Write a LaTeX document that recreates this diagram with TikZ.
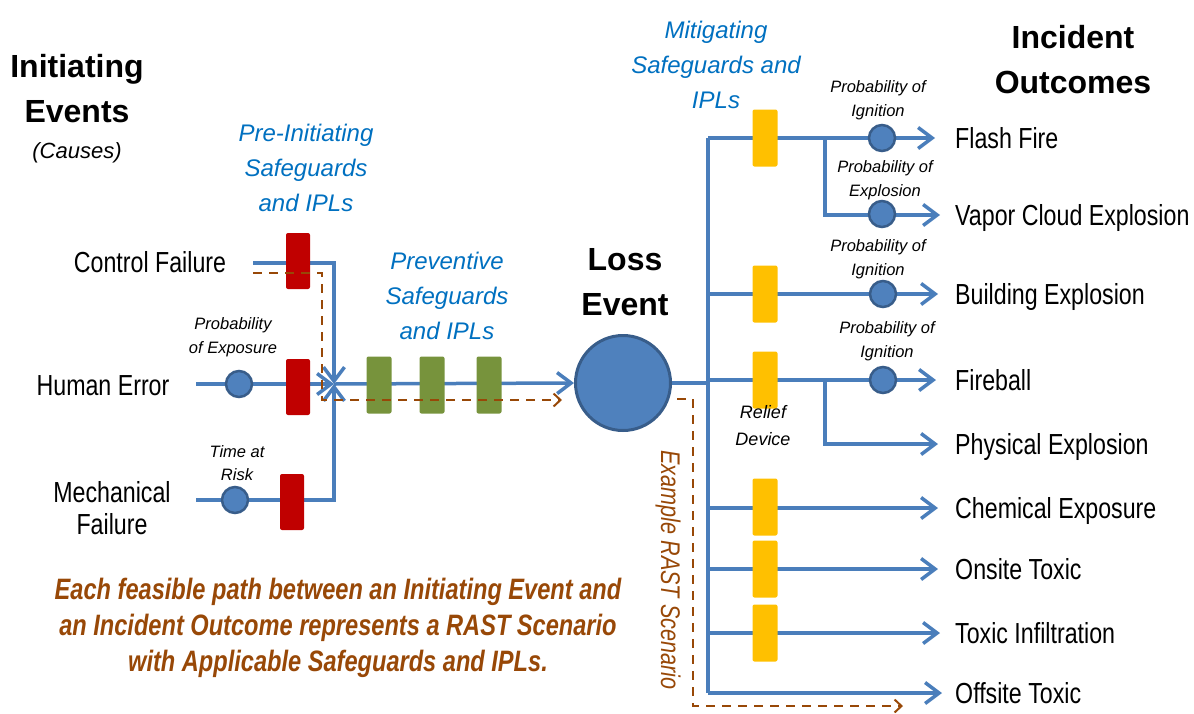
\documentclass[tikz,border=0pt]{standalone}
\usepackage{fontspec}
\setmainfont{Liberation Sans}
\newfontfamily\nar{Liberation Sans}[FakeStretch=0.8]
\usetikzlibrary{arrows.meta,backgrounds}
\definecolor{lblue}{HTML}{4A7EBB}
\definecolor{cblue}{HTML}{4F81BD}
\definecolor{cdark}{HTML}{385D8A}
\definecolor{rred}{HTML}{C00000}
\definecolor{ggreen}{HTML}{77933C}
\definecolor{yyel}{HTML}{FFC000}
\definecolor{tblue}{HTML}{0070C0}
\definecolor{brn}{HTML}{984807}
\tikzset{
 flow/.style={draw=lblue, line width=3.5pt},
 arr/.style={-{Straight Barb[length=14pt,width=21pt]}},
 arrS/.style={-{Straight Barb[length=7pt,width=13pt]}},
 redbox/.style={fill=rred, minimum width=24pt, minimum height=56pt, rounded corners=2pt, inner sep=0pt},
 grnbox/.style={fill=ggreen, minimum width=25pt, minimum height=57pt, rounded corners=2pt, inner sep=0pt},
 ylwbox/.style={fill=yyel, minimum width=25pt, minimum height=57pt, rounded corners=2pt, inner sep=0pt},
 prob/.style={circle, fill=cblue, draw=cdark, line width=2.5pt, minimum size=26pt, inner sep=0pt},
 lossc/.style={circle, fill=cblue, draw=cdark, line width=3pt, minimum size=95pt, inner sep=0pt},
 lbl/.style={font=\nar\fontsize{29}{32}\selectfont, inner sep=0pt, align=center},
 evt/.style={lbl, text height=21pt, text depth=0pt},
 outc/.style={evt, anchor=west},
 small/.style={font=\itshape\fontsize{16.5}{23.5}\selectfont, align=center, inner sep=0pt},
 head/.style={font=\itshape\fontsize{24}{35}\selectfont, text=tblue, align=center, inner sep=0pt},
 ttl/.style={font=\bfseries\fontsize{32}{45}\selectfont, align=center, inner sep=0pt},
 scen/.style={draw=brn, line width=2pt, dash pattern=on 9pt off 7pt},
}
\begin{document}
\begin{tikzpicture}[x=1pt,y=-1pt]
\useasboundingbox (0,0) rectangle (1194,713);

% titles and headings
\node[ttl] (ie) at (77,89) {Initiating\\Events};
\node[font=\itshape\fontsize{22}{26}\selectfont, inner sep=0pt] (causes) at (77,153) {(Causes)};
\node[ttl] (io) at (1073,60) {Incident\\Outcomes};
\node[ttl] (lossT) at (625,282) {Loss\\Event};
\node[head] (hpre) at (306,168) {Pre-Initiating\\Safeguards\\and IPLs};
\node[head] (hprev) at (447,296) {Preventive\\Safeguards\\and IPLs};
\node[head] (hmit) at (716,65) {Mitigating\\Safeguards and\\IPLs};

% initiating events
\node[evt] (cf) at (150,262) {Control Failure};
\node[evt] (he) at (103,385) {Human Error};
\node[lbl] (mf) at (112,508) {Mechanical\\Failure};

% small labels
\node[small] (poe) at (233,337) {Probability\\of Exposure};
\node[small] (tar) at (237,463) {Time at\\Risk};
\node[small] (pi1) at (878,100) {Probability of\\Ignition};
\node[small] (pe1) at (885,180) {Probability of\\Explosion};
\node[small] (pi2) at (878,259) {Probability of\\Ignition};
\node[small] (pi3) at (887,341) {Probability of\\Ignition};

% left safeguards
\node[redbox] (r1) at (298,261) {};
\node[redbox] (r2) at (298,387) {};
\node[redbox] (r3) at (292,502) {};
\node[prob] (c1) at (239,384) {};
\node[prob] (c2) at (235,500) {};
\node[grnbox] (g1) at (379,385) {};
\node[grnbox] (g2) at (432,385) {};
\node[grnbox] (g3) at (489,385) {};
\node[lossc] (loss) at (623,383) {};

% mitigating safeguards
\node[ylwbox] (y1) at (765,138) {};
\node[ylwbox] (y2) at (765,294) {};
\node[ylwbox] (y3) at (765,380) {};
\node[ylwbox] (y4) at (765,507) {};
\node[ylwbox] (y5) at (765,569) {};
\node[ylwbox] (y6) at (765,633) {};
\node[prob] (p1) at (882,138) {};
\node[prob] (p2) at (882,214) {};
\node[prob] (p3) at (883,294) {};
\node[prob] (p4) at (883,380) {};
\node[font=\itshape\fontsize{18}{27}\selectfont, align=center, inner sep=0pt] (relief) at (763,426) {Relief\\Device};

% outcomes
\node[outc] (ff) at (955,138) {Flash Fire};
\node[outc] (vce) at (955,215) {Vapor Cloud Explosion};
\node[outc] (be) at (955,294) {Building Explosion};
\node[outc] (fb) at (955,380) {Fireball};
\node[outc] (pex) at (955,444) {Physical Explosion};
\node[outc] (ce) at (955,508) {Chemical Exposure};
\node[outc] (ost) at (955,569) {Onsite Toxic};
\node[outc] (ti) at (955,633) {Toxic Infiltration};
\node[outc] (ots) at (955,693) {Offsite Toxic};

% bottom text
\node[font=\nar\bfseries\itshape\fontsize{29.5}{36}\selectfont, text=brn, align=center, inner sep=0pt] (note) at (338,628)
 {Each feasible path between an Initiating Event and\\an Incident Outcome represents a RAST Scenario\\with Applicable Safeguards and IPLs.};
\node[font=\nar\itshape\fontsize{27}{30}\selectfont, text=brn, rotate=-90, inner sep=0pt] (rast) at (668,570) {Example RAST Scenario};

% coordinates
\coordinate (cfS) at (253,263);
\coordinate (heS) at (196,384);
\coordinate (mfS) at (196,500);
\coordinate (J) at (334,384);
\coordinate (bus) at (708,383);
\coordinate (busT) at (708,138);
\coordinate (busB) at (708,693);
\coordinate (k1) at (825,138);
\coordinate (k3) at (825,380);

\begin{scope}[on background layer]
\draw[flow,arr] (cfS) -| (J);
\draw[flow,arr] (heS) -- (J);
\draw[flow,arr] (mfS) -| (J);
\draw[flow,arr] (J) -- (loss.west);
\draw[flow] (loss.east) -- (bus);
\draw[flow] (busT) -- (busB);
\draw[flow,arr,shorten >=20pt] (busT) -- (ff.west);
\draw[flow,arr,shorten >=15pt] (k1) |- (vce.west);
\draw[flow,arr,shorten >=17pt] (bus |- be.west) -- (be.west);
\draw[flow,arr,shorten >=19pt] (bus |- fb.west) -- (fb.west);
\draw[flow,arr,shorten >=17pt] (k3) |- (pex.west);
\draw[flow,arr,shorten >=17pt] (bus |- ce.west) -- (ce.west);
\draw[flow,arr,shorten >=17pt] (bus |- ost.west) -- (ost.west);
\draw[flow,arr,shorten >=15pt] (bus |- ti.west) -- (ti.west);
\draw[flow,arr,shorten >=13pt] (busB) -- (ots.west);
\end{scope}

% example scenario path
\coordinate (d1) at (253,273);
\coordinate (d2) at (322,273);
\coordinate (d3) at (322,400);
\coordinate (d4) at (562,400);
\coordinate (e1) at (677,399);
\coordinate (e2) at (693,399);
\coordinate (e3) at (693,706);
\coordinate (e4) at (903,706);
\draw[scen,arrS] (d1) -- (d2) -- (d3) -- (d4);
\draw[scen,arrS] (e1) -- (e2) -- (e3) -- (e4);
\end{tikzpicture}
\end{document}
